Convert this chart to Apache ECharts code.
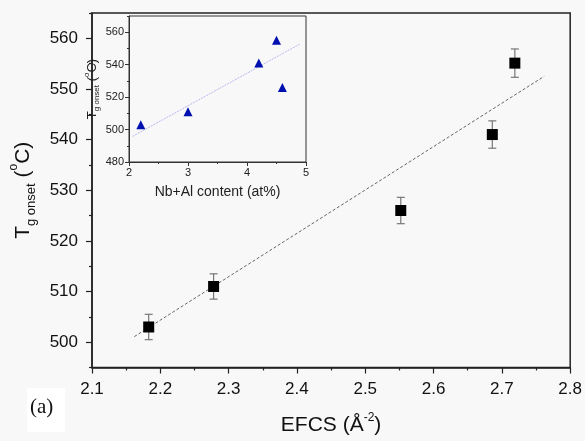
<!DOCTYPE html>
<html><head><meta charset="utf-8">
<script src="https://cdn.jsdelivr.net/npm/echarts@6/dist/echarts.min.js"></script>
<style>html,body{margin:0;padding:0;background:#f8f8f8}#c{width:585px;height:441px}</style>
</head><body><div id="c"></div>
<script>
// Main chart data
const efcs = [2.183, 2.278, 2.552, 2.686, 2.719];
const tgOnset = [503.0, 511.0, 526.0, 541.0, 555.1];
const tgErr = [2.5, 2.5, 2.6, 2.7, 2.8];
const fitX = [2.162, 2.762];
const fitY = [501.1, 552.5];
const xTicks = [2.1, 2.2, 2.3, 2.4, 2.5, 2.6, 2.7, 2.8];
const yTicks = [500, 510, 520, 530, 540, 550, 560];
const yMinorTicks = [495, 505, 515, 525, 535, 545, 555, 565];
// Inset data
const nbAl = [2.2, 3.0, 4.2, 4.5, 4.6];
const tgInset = [503, 511, 541, 555, 526];
const insetFitX = [2.06, 4.89];
const insetFitY = [495.8, 552.6];
const insetYTicks = [480, 500, 520, 540, 560];
const insetYMinorTicks = [490, 510, 530, 550, 570];

const chart = echarts.init(document.getElementById('c'));
const axisCol = '#222';
const font = 'Liberation Sans, Arial, sans-serif';

chart.setOption({
  backgroundColor: '#f8f8f8',
  animation: false,
  grid: [
    {left: 87, top: 13, right: 14, bottom: 73, show: true, borderColor: axisCol, borderWidth: 1.5, backgroundColor: 'transparent'},
    {left: 129, top: 16, right: 279, bottom: 279, show: true, borderColor: '#333', borderWidth: 1, backgroundColor: '#f8f8f8'}
  ],
  xAxis: [
    {gridIndex: 0, type: 'value', min: 2.1, max: 2.8, interval: 0.1,
     axisLine: {lineStyle: {color: axisCol, width: 1.5}},
     axisTick: {length: 6, lineStyle: {color: axisCol, width: 1.2}},
     minorTick: {show: true, splitNumber: 2, length: 3, lineStyle: {color: axisCol, width: 1.2}},
     splitLine: {show: false},
     axisLabel: {color: '#111', fontSize: 17, fontFamily: font, margin: 13, formatter: v => v.toFixed(1)},
     name: '{n|EFCS (Å}{p|-2}{n|)}', nameLocation: 'middle', nameGap: 44,
     nameTextStyle: {rich: {
       n: {fontSize: 21, fontFamily: font, color: '#111', lineHeight: 28, verticalAlign: 'middle'},
       p: {fontSize: 12, fontFamily: font, color: '#111', lineHeight: 28, verticalAlign: 'top'}
     }}},
    {gridIndex: 1, type: 'value', min: 2, max: 5, interval: 1,
     axisLine: {lineStyle: {color: '#333', width: 1}},
     axisTick: {length: 4, lineStyle: {color: '#333'}},
     minorTick: {show: true, splitNumber: 2, length: 2, lineStyle: {color: '#333'}},
     splitLine: {show: false},
     axisLabel: {color: '#222', fontSize: 11, fontFamily: font, margin: 5},
     name: 'Nb+Al content (at%)', nameLocation: 'middle', nameGap: 23,
     nameTextStyle: {fontSize: 14, fontFamily: font, color: '#222'}}
  ],
  yAxis: [
    {gridIndex: 0, type: 'value', min: 495, max: 565, position: 'left',
     axisLine: {lineStyle: {color: axisCol, width: 1.5}},
     axisTick: {length: 6, customValues: yTicks, lineStyle: {color: axisCol, width: 1.2}},
     splitLine: {show: false},
     axisLabel: {color: '#111', fontSize: 17, fontFamily: font, margin: 14, customValues: yTicks},
     name: '{t|T}{s|g onset}{n| (}{p|o}{n|C)}', nameLocation: 'middle', nameGap: 54,
     nameTextStyle: {rich: {
       t: {fontSize: 21, fontFamily: font, color: '#111', lineHeight: 30, verticalAlign: 'middle'},
       s: {fontSize: 13, fontFamily: font, color: '#111', lineHeight: 30, verticalAlign: 'bottom'},
       n: {fontSize: 21, fontFamily: font, color: '#111', lineHeight: 30, verticalAlign: 'middle'},
       p: {fontSize: 12, fontFamily: font, color: '#111', lineHeight: 30, verticalAlign: 'top'}
     }}},
    {gridIndex: 0, type: 'value', min: 495, max: 565, position: 'left',
     axisLine: {show: false},
     axisTick: {length: 3, customValues: yMinorTicks, lineStyle: {color: axisCol, width: 1.2}},
     splitLine: {show: false},
     axisLabel: {show: false}},
    {gridIndex: 1, type: 'value', min: 480, max: 570, interval: 20, position: 'left',
     axisLine: {lineStyle: {color: '#333', width: 1}},
     axisTick: {length: 4, customValues: insetYTicks, lineStyle: {color: '#333'}},
     splitLine: {show: false},
     axisLabel: {color: '#222', fontSize: 11, fontFamily: font, margin: 5, customValues: insetYTicks},
     name: '{t|T}{s|g onset}{n| (}{p|o}{n|C)}', nameLocation: 'middle', nameGap: 28,
     nameTextStyle: {rich: {
       t: {fontSize: 13, fontFamily: font, color: '#222', lineHeight: 18, verticalAlign: 'middle'},
       s: {fontSize: 8, fontFamily: font, color: '#222', lineHeight: 18, verticalAlign: 'bottom'},
       n: {fontSize: 13, fontFamily: font, color: '#222', lineHeight: 18, verticalAlign: 'middle'},
       p: {fontSize: 8, fontFamily: font, color: '#222', lineHeight: 18, verticalAlign: 'top'}
     }}},
    {gridIndex: 1, type: 'value', min: 480, max: 570, position: 'left',
     axisLine: {show: false},
     axisTick: {length: 2, customValues: insetYMinorTicks, lineStyle: {color: '#333'}},
     splitLine: {show: false},
     axisLabel: {show: false}}
  ],
  series: [
    {type: 'line', xAxisIndex: 0, yAxisIndex: 0, data: fitX.map((x, i) => [x, fitY[i]]),
     symbol: 'none', lineStyle: {color: '#666', width: 1, type: [3, 2]}, z: 2},
    {type: 'custom', xAxisIndex: 0, yAxisIndex: 0, z: 3,
     data: efcs.map((x, i) => [x, tgOnset[i] - tgErr[i], tgOnset[i] + tgErr[i]]),
     renderItem: (params, api) => {
       const lo = api.coord([api.value(0), api.value(1)]);
       const hi = api.coord([api.value(0), api.value(2)]);
       const w = 4;
       const st = {stroke: '#777', lineWidth: 1.2};
       return {type: 'group', children: [
         {type: 'line', shape: {x1: lo[0], y1: lo[1], x2: hi[0], y2: hi[1]}, style: st},
         {type: 'line', shape: {x1: lo[0] - w, y1: lo[1], x2: lo[0] + w, y2: lo[1]}, style: st},
         {type: 'line', shape: {x1: hi[0] - w, y1: hi[1], x2: hi[0] + w, y2: hi[1]}, style: st}
       ]};
     }},
    {type: 'scatter', xAxisIndex: 0, yAxisIndex: 0, z: 4, data: efcs.map((x, i) => [x, tgOnset[i]]),
     symbol: 'rect', symbolSize: 11, itemStyle: {color: '#000', opacity: 1}},
    {type: 'line', xAxisIndex: 1, yAxisIndex: 2, data: insetFitX.map((x, i) => [x, insetFitY[i]]),
     symbol: 'none', lineStyle: {color: '#b8b8f0', width: 1, type: [2, 1]}, z: 5},
    {type: 'scatter', xAxisIndex: 1, yAxisIndex: 2, z: 6, data: nbAl.map((x, i) => [x, tgInset[i]]),
     symbol: 'triangle', symbolSize: 9, itemStyle: {color: '#0010b0', opacity: 1}}
  ],
  graphic: [
    {type: 'rect', left: 27, top: 388, shape: {width: 38, height: 44}, style: {fill: '#fff'}, z: 10},
    {type: 'text', left: 30, top: 397, z: 11,
     style: {text: '(a)', fontSize: 21, fontFamily: 'Liberation Serif, Times New Roman, serif', fill: '#111'}}
  ]
});
</script></body></html>
